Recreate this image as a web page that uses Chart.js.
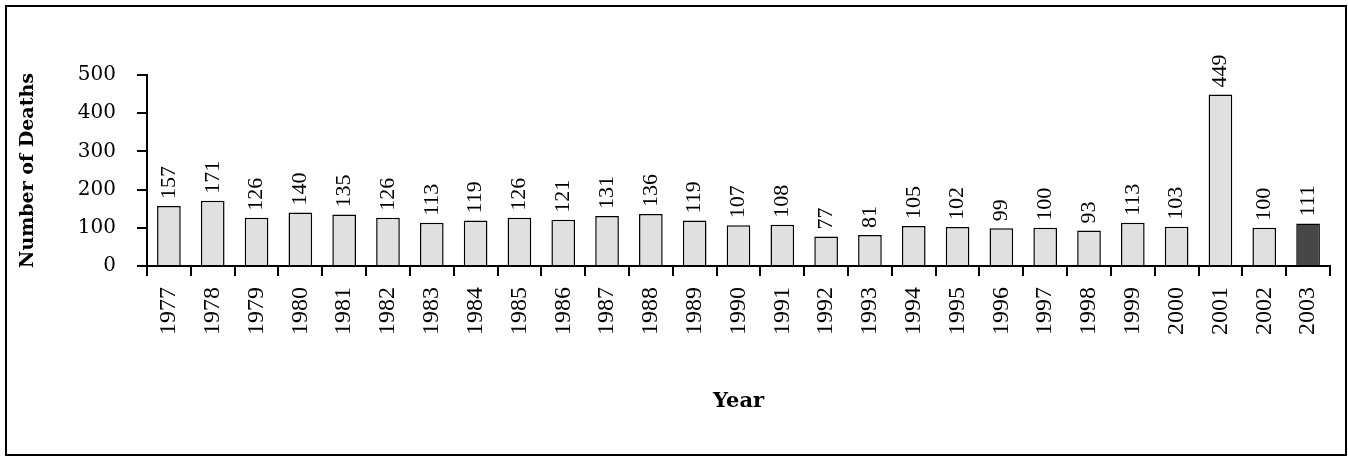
<!DOCTYPE html>
<html>
<head>
<meta charset="utf-8">
<title>Number of Deaths by Year</title>
<script src="https://cdn.jsdelivr.net/npm/chart.js@4.4.1/dist/chart.umd.min.js"></script>
<style>
  html, body { margin: 0; padding: 0; background: #ffffff; }
  #wrap { width: 1348px; height: 457px; }
</style>
</head>
<body>
<div id="wrap"><canvas id="chart" width="1348" height="457"></canvas></div>
<script>
// Yearly counts
const years = ['1977','1978','1979','1980','1981','1982','1983','1984','1985','1986',
               '1987','1988','1989','1990','1991','1992','1993','1994','1995','1996',
               '1997','1998','1999','2000','2001','2002','2003'];
const deaths = [157, 171, 126, 140, 135, 126, 113, 119, 126, 121,
                131, 136, 119, 107, 108, 77, 81, 105, 102, 99,
                100, 93, 113, 103, 449, 100, 111];
const yTicks = [0, 100, 200, 300, 400, 500];

const LIGHT = '#e0e0e0';
const DARK = '#474747';
const barColors = years.map((y, i) => i === years.length - 1 ? DARK : LIGHT);

// Rotated value labels above each bar
const valueLabels = {
  id: 'valueLabels',
  afterDatasetsDraw(chart) {
    const ctx = chart.ctx;
    const meta = chart.getDatasetMeta(0);
    ctx.save();
    ctx.fillStyle = '#000';
    ctx.font = '22px "Liberation Serif", "Times New Roman", serif';
    ctx.textAlign = 'left';
    ctx.textBaseline = 'middle';
    meta.data.forEach((bar, i) => {
      ctx.save();
      ctx.translate(bar.x, bar.y - 7);
      ctx.rotate(-Math.PI / 2);
      ctx.fillText(String(deaths[i]), 0, 0);
      ctx.restore();
    });
    ctx.restore();
  }
};

// Outer frame around the whole figure
const frame = {
  id: 'frame',
  afterDraw(chart) {
    const ctx = chart.ctx;
    ctx.save();
    ctx.strokeStyle = '#000';
    ctx.lineWidth = 2;
    ctx.strokeRect(6, 6, 1340, 449);
    ctx.restore();
  }
};

new Chart(document.getElementById('chart'), {
  type: 'bar',
  data: {
    labels: years,
    datasets: [{
      data: deaths,
      backgroundColor: barColors,
      borderColor: '#000',
      borderWidth: 1.5,
      barPercentage: 0.54,
      categoryPercentage: 1.0
    }]
  },
  options: {
    responsive: false,
    animation: false,
    layout: { padding: { left: 0, right: 7, top: 75, bottom: 0 } },
    plugins: {
      legend: { display: false },
      tooltip: { enabled: false }
    },
    scales: {
      x: {
        afterFit(scale) { scale.height = 191; },
        border: { display: true, color: '#000', width: 2 },
        grid: {
          display: true,
          drawOnChartArea: false,
          drawTicks: true,
          tickLength: 10,
          color: '#000',
          lineWidth: 2,
          offset: true
        },
        ticks: {
          autoSkip: false,
          minRotation: 90,
          maxRotation: 90,
          padding: 11,
          color: '#000',
          font: { family: '"Liberation Serif", "Times New Roman", serif', size: 24 }
        },
        title: {
          display: true,
          text: 'Year',
          color: '#000',
          padding: { top: 4, bottom: 43 },
          font: { family: '"DejaVu Serif", serif', size: 21, weight: 'bold' }
        }
      },
      y: {
        min: 0,
        max: 500,
        afterFit(scale) { scale.width = 147; },
        afterBuildTicks(scale) { scale.ticks = yTicks.map(v => ({ value: v })); },
        border: { display: true, color: '#000', width: 2 },
        grid: {
          display: true,
          drawOnChartArea: false,
          drawTicks: true,
          tickLength: 10,
          color: '#000',
          lineWidth: 2
        },
        ticks: {
          padding: 21,
          color: '#000',
          font: { family: '"DejaVu Serif", serif', size: 20 }
        },
        title: {
          display: true,
          text: 'Number of Deaths',
          color: '#000',
          padding: { top: 17, bottom: 0 },
          font: { family: '"DejaVu Serif", serif', size: 19, weight: 'bold' }
        }
      }
    }
  },
  plugins: [valueLabels, frame]
});
</script>
</body>
</html>
